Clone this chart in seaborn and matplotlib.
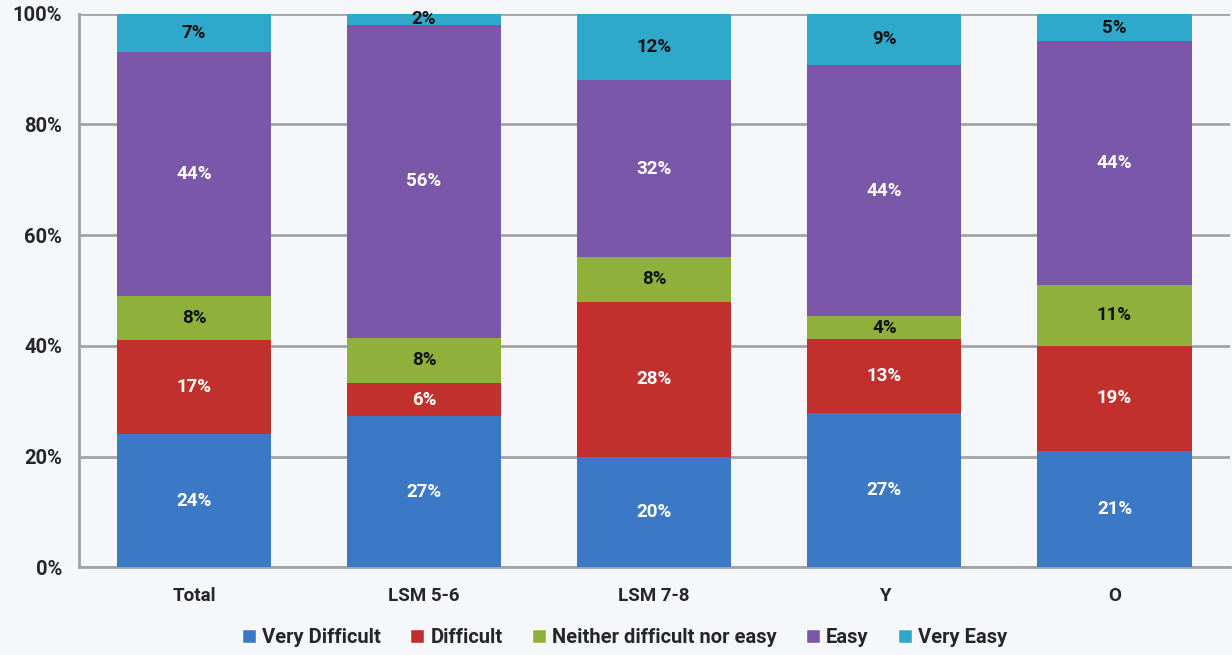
import matplotlib
matplotlib.use('Agg')
import matplotlib.pyplot as plt
from matplotlib.patches import Patch
import seaborn as sea
import pandas as pd
import numpy as np

# survey answers, % per group (100% stacked, as in the source chart)
groups = ['Total', 'LSM 5-6', 'LSM 7-8', 'Y', 'O']
answers = ['Very Difficult', 'Difficult', 'Neither difficult nor easy', 'Easy', 'Very Easy']
very_difficult = [24, 27, 20, 27, 21]
difficult = [17, 6, 28, 13, 19]
neither = [8, 8, 8, 4, 11]
easy = [44, 56, 32, 44, 44]
very_easy = [7, 2, 12, 9, 5]

colours = ['#3b78c6', '#c2302d', '#8fb13c', '#7b57a9', '#2fa9cb']
label_colours = ['white', 'white', '#111111', 'white', '#111111']

sea.set_style('white')
plt.rcParams['font.family'] = ['Roboto', 'DejaVu Sans']
plt.rcParams['font.weight'] = 'bold'

values = np.array([very_difficult, difficult, neither, easy, very_easy], dtype=float)
shares = values / values.sum(axis=0) * 100

fig = plt.figure(figsize=(12.32, 6.55), dpi=100, facecolor='#f6f7fa')
ax = fig.add_axes([0.064, 0.134, 0.934, 0.845])
ax.set_facecolor('none')

bottom = np.zeros(len(groups))
for i, answer in enumerate(answers):
    df = pd.DataFrame({'group': groups, 'share': shares[i]})
    sea.barplot(data=df, x='group', y='share', color=colours[i], bottom=bottom,
                width=0.67, saturation=1, ax=ax, zorder=3, linewidth=0)
    ax.bar_label(ax.containers[-1], labels=[f'{v:.0f}%' for v in values[i]],
                 label_type='center', color=label_colours[i], fontsize=13.5,
                 fontweight='bold', zorder=4)
    bottom = bottom + shares[i]

ax.set_ylim(0, 100)
ax.set_xlim(-0.5, len(groups) - 0.5)
ax.set_yticks(range(0, 101, 20))
ax.set_yticklabels([f'{t}%' for t in range(0, 101, 20)], fontsize=14.5, fontweight='bold')
ax.set_xticks(range(len(groups)))
ax.set_xticklabels(groups, fontsize=13.5, fontweight='bold')
ax.set_xticks(np.arange(-0.5, len(groups), 1), minor=True)
ax.tick_params(axis='x', which='major', length=0, pad=14)
ax.tick_params(axis='x', which='minor', length=7, width=1.5, color='#999999', direction='out')
ax.tick_params(axis='y', length=7, width=1.5, color='#999999', direction='out', pad=5)
ax.yaxis.grid(True, color='#a3a3a3', linewidth=2, zorder=1)
ax.set_axisbelow(True)
ax.set_xlabel(None)
ax.set_ylabel(None)
for side in ['top', 'right']:
    ax.spines[side].set_visible(False)
for side in ['left', 'bottom']:
    ax.spines[side].set_color('#a3a3a3')
    ax.spines[side].set_linewidth(2)

handles = [Patch(facecolor=c, label=a) for c, a in zip(colours, answers)]
fig.legend(handles=handles, loc='center', bbox_to_anchor=(0.507, 0.026), ncol=5,
           frameon=False, fontsize=14.5, handlelength=0.7, handleheight=0.7,
           handletextpad=0.3, columnspacing=1.45)

plt.savefig('out.png', dpi=100, facecolor=fig.get_facecolor())
